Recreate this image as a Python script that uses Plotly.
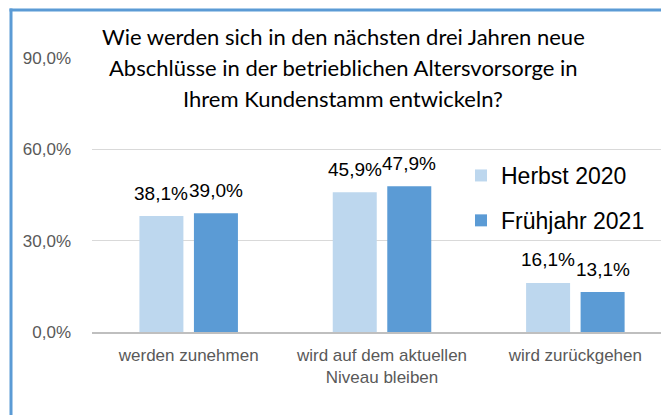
import plotly.graph_objects as go

categories = ["werden zunehmen", "wird auf dem aktuellen<br>Niveau bleiben", "wird zurückgehen"]
series_names = ["Herbst 2020", "Frühjahr 2021"]
herbst_2020 = [38.1, 45.9, 16.1]
fruehjahr_2021 = [39.0, 47.9, 13.1]
tick_values = [0, 30, 60, 90]
tick_labels = ["0,0%", "30,0%", "60,0%", "90,0%"]
title_lines = [
    "Wie werden sich in den nächsten drei Jahren neue",
    "Abschlüsse in der betrieblichen Altersvorsorge in",
    "Ihrem Kundenstamm entwickeln?",
]
colors = ["#BDD7EE", "#5B9BD5"]

SANS = "Liberation Sans, Arial"

W, H = 661, 415
ML, MR, MT, MB = 92, 0, 58, 83
PW, PH = W - ML - MR, H - MT - MB
BARGAP = 0.436
BARGROUPGAP = 0.193
XMAX = 2.443

def px2x(px):
    return (px - ML) / PW

def py2y(py):
    return (H - MB - py) / PH

def fmt(v):
    return f"{v:.1f}".replace(".", ",") + "%"

xidx = list(range(len(categories)))
fig = go.Figure()
for name, vals, col in zip(series_names, [herbst_2020, fruehjahr_2021], colors):
    fig.add_trace(go.Bar(
        x=xidx, y=vals, name=name, marker=dict(color=col, line=dict(width=0)),
        legendgroup=name, hoverinfo="skip",
    ))

slot = (1 - BARGAP) / 2
annotations = []
for k, vals in enumerate([herbst_2020, fruehjahr_2021]):
    off = (k - 0.5) * slot
    for i, v in enumerate(vals):
        annotations.append(dict(
            x=i + off, y=v, xref="x", yref="y", text=fmt(v), showarrow=False,
            yanchor="middle", xanchor="center", yshift=23,
            font=dict(family=SANS, size=19, color="#000000"),
        ))

title_y_px = [36, 67.5, 98.5]
for line, ty in zip(title_lines, title_y_px):
    annotations.append(dict(
        x=px2x(343), y=py2y(ty), xref="paper", yref="paper", text=line,
        showarrow=False, xanchor="center", yanchor="middle",
        font=dict(family="Lato, Open Sans, sans-serif", size=22, color="#000000"),
    ))

shapes = [
    dict(type="line", xref="paper", yref="paper", x0=px2x(11), x1=px2x(11),
         y0=py2y(8.5), y1=py2y(H + 5), line=dict(color="#5B9BD5", width=3)),
    dict(type="line", xref="paper", yref="paper", x0=px2x(9.5), x1=px2x(W + 5),
         y0=py2y(10), y1=py2y(10), line=dict(color="#5B9BD5", width=3)),
]

fig.update_layout(
    width=W, height=H,
    margin=dict(l=ML, r=MR, t=MT, b=MB, pad=0, autoexpand=False),
    paper_bgcolor="white", plot_bgcolor="white",
    barmode="group", bargap=BARGAP, bargroupgap=BARGROUPGAP,
    showlegend=True,
    legend=dict(
        x=px2x(461), y=py2y(154), xanchor="left", yanchor="top",
        font=dict(family=SANS, size=23, color="#000000"),
        bgcolor="rgba(0,0,0,0)", tracegroupgap=12, traceorder="grouped",
        itemwidth=30,
    ),
    xaxis=dict(
        range=[-0.5, XMAX], tickvals=xidx, ticktext=categories,
        showgrid=False, showline=True, linecolor="#BFBFBF", linewidth=1.5,
        ticks="", tickangle=0, automargin=False, ticklabelstandoff=7,
        tickfont=dict(family=SANS, size=17, color="#595959"),
        zeroline=False, fixedrange=True,
    ),
    yaxis=dict(
        range=[0, 90], tickvals=tick_values, ticktext=tick_labels,
        showgrid=True, gridcolor="#D9D9D9", gridwidth=1.3, zeroline=False,
        showline=False, ticks="", ticklabelstandoff=20, automargin=False,
        tickfont=dict(family=SANS, size=17, color="#595959"),
        fixedrange=True,
    ),
    annotations=annotations, shapes=shapes,
)

fig.write_html(
    "out.html",
    config={"displayModeBar": False},
    post_script="document.body.style.margin='0';document.body.style.overflow='hidden';",
)
